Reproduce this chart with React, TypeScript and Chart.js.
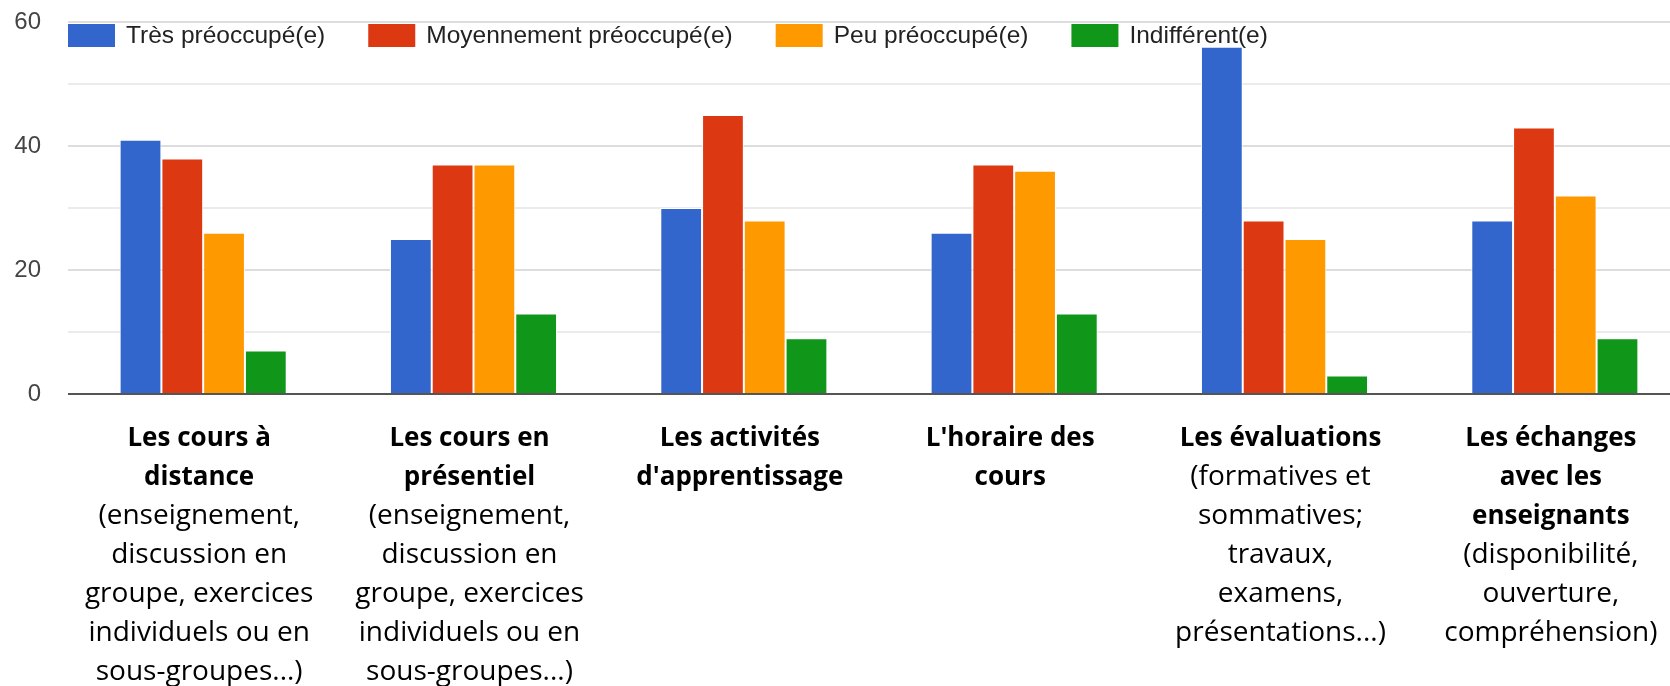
import React, { useEffect, useRef } from 'react';
import { Chart, registerables } from 'chart.js';

Chart.register(...registerables);

// ---- Data ----
const categoryBold: string[][] = [
  ['Les cours à', 'distance'],
  ['Les cours en', 'présentiel'],
  ['Les activités', "d'apprentissage"],
  ["L'horaire des", 'cours'],
  ['Les évaluations'],
  ['Les échanges', 'avec les', 'enseignants'],
];
const categoryDetail: string[][] = [
  ['(enseignement,', 'discussion en', 'groupe, exercices', 'individuels ou en', 'sous-groupes...)'],
  ['(enseignement,', 'discussion en', 'groupe, exercices', 'individuels ou en', 'sous-groupes...)'],
  [],
  [],
  ['(formatives et', 'sommatives;', 'travaux,', 'examens,', 'présentations...)'],
  ['(disponibilité,', 'ouverture,', 'compréhension)'],
];
const seriesNames = ['Très préoccupé(e)', 'Moyennement préoccupé(e)', 'Peu préoccupé(e)', 'Indifférent(e)'];
const tresPreoccupe = [41, 25, 30, 26, 56, 28];
const moyennementPreoccupe = [38, 37, 45, 37, 28, 43];
const peuPreoccupe = [26, 37, 28, 36, 25, 32];
const indifferent = [7, 13, 9, 13, 3, 9];
const yTickLabels = [0, 20, 40, 60];

const seriesValues = [tresPreoccupe, moyennementPreoccupe, peuPreoccupe, indifferent];
const seriesColors = ['#3366cc', '#dc3912', '#ff9900', '#109618'];

const AXIS_FONT = '"Liberation Sans", Arial, sans-serif';
const LABEL_FONT = '"Open Sans", "Noto Sans", sans-serif';

const legendPlugin = {
  id: 'customLegend',
  afterDraw(chart: any) {
    const { ctx, chartArea } = chart;
    ctx.save();
    ctx.font = `24.5px ${AXIS_FONT}`;
    ctx.textBaseline = 'middle';
    ctx.textAlign = 'left';
    let x = chartArea.left;
    const boxW = 47;
    const boxH = 23;
    const top = chartArea.top + 2;
    chart.data.datasets.forEach((ds: any) => {
      ctx.fillStyle = ds.backgroundColor;
      ctx.fillRect(x, top, boxW, boxH);
      ctx.fillStyle = '#222';
      const tx = x + boxW + 11;
      ctx.fillText(ds.label, tx, top + boxH / 2 + 1);
      x = tx + ctx.measureText(ds.label).width + 43;
    });
    ctx.restore();
  },
};

const xLabelPlugin = {
  id: 'xLabels',
  afterDraw(chart: any) {
    const { ctx, chartArea } = chart;
    const xs = chart.scales.x;
    ctx.save();
    ctx.fillStyle = '#000';
    ctx.textAlign = 'center';
    ctx.textBaseline = 'alphabetic';
    const lineH = 39;
    categoryBold.forEach((bold, i) => {
      const cx = xs.getPixelForValue(i) - 4;
      let y = chartArea.bottom + 52;
      ctx.font = `bold 26px ${LABEL_FONT}`;
      bold.forEach((line) => {
        ctx.fillText(line, cx, y);
        y += lineH;
      });
      ctx.font = `28px ${LABEL_FONT}`;
      categoryDetail[i].forEach((line) => {
        ctx.fillText(line, cx, y);
        y += lineH;
      });
    });
    ctx.restore();
  },
};

export default function App() {
  const canvasRef = useRef<HTMLCanvasElement>(null);

  useEffect(() => {
    if (!canvasRef.current) return;
    const chart = new Chart(canvasRef.current, {
      type: 'bar',
      data: {
        labels: categoryBold.map((b) => b.join(' ')),
        datasets: seriesNames.map((name, i) => ({
          label: name,
          data: seriesValues[i],
          backgroundColor: seriesColors[i],
          borderColor: '#ffffff',
          borderWidth: 1,
          categoryPercentage: 0.618,
          barPercentage: 1,
        })),
      },
      options: {
        responsive: false,
        animation: false,
        devicePixelRatio: 1,
        layout: { padding: { top: 22, left: 0, right: 0, bottom: 0 } },
        plugins: {
          legend: { display: false },
          tooltip: { enabled: false },
        },
        scales: {
          x: {
            grid: { display: false },
            border: { display: false },
            ticks: { display: false },
            afterFit: (scale: any) => {
              scale.height = 292;
            },
          },
          y: {
            min: 0,
            max: 60,
            afterFit: (scale: any) => {
              scale.width = 68;
              scale.paddingTop = 0;
              scale.paddingBottom = 0;
            },
            border: { display: false },
            grid: {
              drawTicks: false,
              color: (c: any) =>
                c.tick.value === 0 ? '#555555' : c.tick.value % 20 === 0 ? '#dddddd' : '#ebebeb',
              lineWidth: 2,
            },
            ticks: {
              stepSize: 10,
              padding: 27,
              color: '#444444',
              font: { family: AXIS_FONT, size: 24 },
              callback: (v: any) => (yTickLabels.includes(Number(v)) ? String(v) : ''),
            },
          },
        },
      },
      plugins: [legendPlugin, xLabelPlugin],
    });
    return () => chart.destroy();
  }, []);

  return (
    <div
      style={{
        position: 'fixed',
        left: 0,
        top: 0,
        width: 1670,
        height: 686,
        overflow: 'hidden',
        background: '#ffffff',
      }}
    >
      <canvas ref={canvasRef} width={1690} height={686} style={{ display: 'block' }} />
    </div>
  );
}
